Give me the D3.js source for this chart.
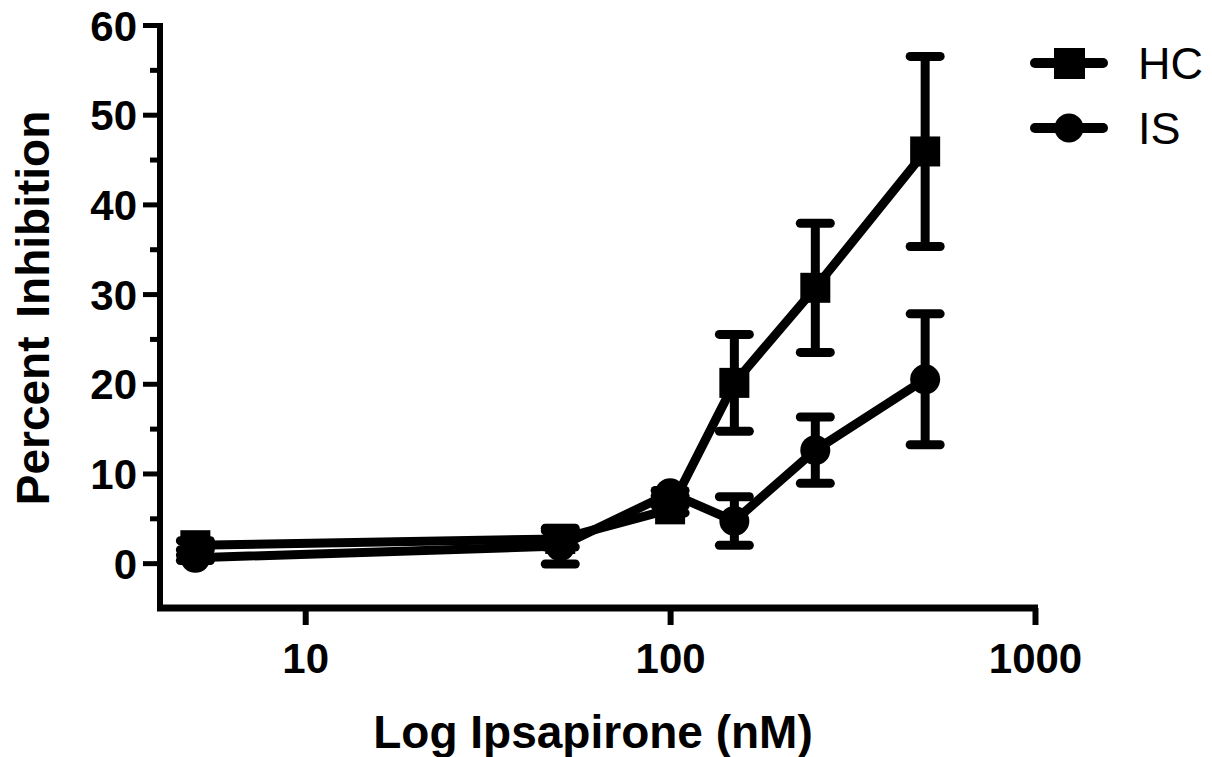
<!DOCTYPE html>
<html>
<head>
<meta charset="utf-8">
<script src="https://cdn.jsdelivr.net/npm/d3@7"></script>
<style>
  body { margin: 0; background: #fff; }
  text { font-family: "Liberation Sans", Arial, sans-serif; fill: #000; }
</style>
</head>
<body>
<div id="chart"></div>
<script>
// Ipsapirone dose (nM)
const doses = [5, 50, 100, 150, 250, 500];

// Percent inhibition, mean and SEM
const hcMean = [2.0, 2.7, 6.0, 20.1, 30.7, 45.9];
const hcErr  = [0.5, 0.9, 0.4, 5.4, 7.2, 10.6];
const isMean = [0.6, 1.9, 7.8, 4.7, 12.6, 20.5];
const isErr  = [0.3, 2.0, 0.3, 2.7, 3.7, 7.3];

const seriesNames = ["HC", "IS"];
const yTicks = [0, 10, 20, 30, 40, 50, 60];
const yMinorTicks = [5, 15, 25, 35, 45, 55];
const xTicks = [10, 100, 1000];

function createChart() {
    const width = 1212;
    const height = 757;

    const svg = d3.select("#chart").append("svg")
        .attr("width", width)
        .attr("height", height);

    // Scales
    const x = d3.scaleLog().domain([4, 1000]).range([160, 1035]);
    const y = d3.scaleLinear().domain([-5, 60]).range([608, 25]);

    // Y axis
    const yAxis = svg.append("g")
        .attr("transform", "translate(160,0)")
        .call(d3.axisLeft(y).tickValues(yTicks).tickSize(17).tickPadding(6).tickSizeOuter(0));
    yAxis.select(".domain").remove();
    yAxis.selectAll(".tick line").attr("stroke", "#000").attr("stroke-width", 5);
    yAxis.selectAll(".tick text")
        .attr("dy", "0.36em")
        .style("font-size", "42px")
        .style("font-weight", "bold");

    const yMinor = svg.append("g")
        .attr("transform", "translate(160,0)")
        .call(d3.axisLeft(y).tickValues(yMinorTicks).tickSize(10).tickFormat(""));
    yMinor.select(".domain").remove();
    yMinor.selectAll(".tick line").attr("stroke", "#000").attr("stroke-width", 5);

    svg.append("line")
        .attr("x1", 160).attr("x2", 160)
        .attr("y1", y(60) - 2).attr("y2", y(-5))
        .attr("stroke", "#000").attr("stroke-width", 6);

    // X axis
    const xAxis = svg.append("g")
        .attr("transform", "translate(0,608)")
        .call(d3.axisBottom(x).tickValues(xTicks).tickSize(17).tickPadding(8).tickFormat(d3.format("d")));
    xAxis.select(".domain").remove();
    xAxis.selectAll(".tick line").attr("stroke", "#000").attr("stroke-width", 6);
    xAxis.selectAll(".tick text")
        .attr("dy", "0.95em")
        .style("font-size", "42px")
        .style("font-weight", "bold");

    svg.append("line")
        .attr("x1", 157).attr("x2", x(1000) + 3)
        .attr("y1", 608).attr("y2", 608)
        .attr("stroke", "#000").attr("stroke-width", 7);

    // Axis titles
    svg.append("text")
        .attr("transform", "translate(49,308) rotate(-90)")
        .attr("text-anchor", "middle")
        .style("font-size", "46px")
        .style("font-weight", "bold")
        .style("word-spacing", "6px")
        .text("Percent Inhibition");

    svg.append("text")
        .attr("x", 593)
        .attr("y", 748)
        .attr("text-anchor", "middle")
        .style("font-size", "46px")
        .style("font-weight", "bold")
        .text("Log Ipsapirone (nM)");

    // Series
    const series = [
        { name: seriesNames[0], mean: hcMean, err: hcErr, shape: "square" },
        { name: seriesNames[1], mean: isMean, err: isErr, shape: "circle" }
    ];

    const line = d3.line().x(d => x(d.dose)).y(d => y(d.mean));

    series.forEach(s => {
        const pts = doses.map((d, i) => ({ dose: d, mean: s.mean[i], err: s.err[i] }));
        const g = svg.append("g").attr("class", "series-" + s.name);

        // error bars
        pts.forEach(p => {
            const cx = x(p.dose);
            const top = y(p.mean + p.err);
            const bot = y(p.mean - p.err);
            g.append("line")
                .attr("x1", cx).attr("x2", cx).attr("y1", top).attr("y2", bot)
                .attr("stroke", "#000").attr("stroke-width", 9);
            [top, bot].forEach(cy => {
                g.append("line")
                    .attr("x1", cx - 15).attr("x2", cx + 15).attr("y1", cy).attr("y2", cy)
                    .attr("stroke", "#000").attr("stroke-width", 9)
                    .attr("stroke-linecap", "round");
            });
        });

        g.append("path")
            .datum(pts)
            .attr("d", line)
            .attr("fill", "none")
            .attr("stroke", "#000")
            .attr("stroke-width", 9)
            .attr("stroke-linejoin", "round");

        if (s.shape === "square") {
            g.selectAll("rect").data(pts).join("rect")
                .attr("x", d => x(d.dose) - 15)
                .attr("y", d => y(d.mean) - 15)
                .attr("width", 30).attr("height", 30)
                .attr("fill", "#000");
        } else {
            g.selectAll("circle").data(pts).join("circle")
                .attr("cx", d => x(d.dose))
                .attr("cy", d => y(d.mean))
                .attr("r", 15)
                .attr("fill", "#000");
        }
    });

    // Legend
    const legend = svg.append("g").attr("transform", "translate(1030,63)");
    series.forEach((s, i) => {
        const g = legend.append("g").attr("transform", `translate(0, ${i * 65})`);
        g.append("line")
            .attr("x1", 5).attr("x2", 73).attr("y1", 0).attr("y2", 0)
            .attr("stroke", "#000").attr("stroke-width", 10)
            .attr("stroke-linecap", "round");
        if (s.shape === "square") {
            g.append("rect").attr("x", 24).attr("y", -15).attr("width", 31).attr("height", 31).attr("fill", "#000");
        } else {
            g.append("circle").attr("cx", 39).attr("cy", 0).attr("r", 14.5).attr("fill", "#000");
        }
        g.append("text")
            .attr("x", 108)
            .attr("y", 16)
            .style("font-size", "45px")
            .text(s.name);
    });
}

createChart();
</script>
</body>
</html>
